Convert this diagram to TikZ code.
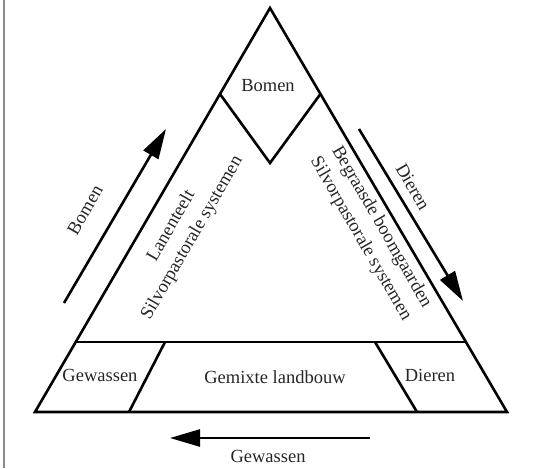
\documentclass[tikz,border=0pt]{standalone}
\usepackage{fontspec}
\setmainfont{Liberation Serif}
\usetikzlibrary{calc,arrows.meta}
\tikzset{
	edge line/.style={line width=2.6pt, line join=miter},
	flow arrow/.style={line width=2.6pt, -{Triangle[length=30pt,width=17pt]}},
	label text/.style={font=\fontsize{18.5}{24}\selectfont, text=black!85, align=center},
}

\begin{document}
\begin{tikzpicture}[x=1pt,y=-1pt]
		%%%%% START %%%%%
		\useasboundingbox (0,0) rectangle (537,468);
		\draw[line width=1.2pt, color=black!45] (4,0) -- (4,468);
		
		% triangle
		\coordinate (top) at (270,8);
		\coordinate (bl) at (35,412);
		\coordinate (br) at (507,412);
		\draw[edge line] (bl) -- (top) -- (br) -- cycle;
		
		% diamond at the top
		\coordinate (dl) at ($(top)!{86/404}!(bl)$);
		\coordinate (dr) at ($(top)!{86/404}!(br)$);
		\coordinate (db) at (270,163);
		\draw[edge line] (dl) -- (db) -- (dr);
		\node[label text] (bomentop) at (268,86) {Bomen};
		
		% bottom band
		\coordinate (ml) at ($(bl)!{70/404}!(top)$);
		\coordinate (mr) at ($(br)!{70/404}!(top)$);
		\draw[edge line] (ml) -- (mr);
		\draw[edge line] (165,342) -- (129,412);
		\draw[edge line] (375,342) -- (417,412);
		
		\node[label text] (gewassenbox) at (100,375) {Gewassen};
		\node[label text] (gemixt) at (275,377) {Gemixte landbouw};
		\node[label text] (dierenbox) at (430,375) {Dieren};
		
		% side texts
		\node[label text, rotate=60] (lanen) at (182,232) {Lanenteelt\\Silvorpastorale systemen};
		\node[label text, rotate=-60] (begraasd) at (371,233) {Begraasde boomgaarden\\Silvorpastorale systemen};
		
		% arrows
		\coordinate (la0) at (64,303);
		\coordinate (la1) at (166,129);
		\draw[flow arrow] (la0) -- (la1);
		\node[label text, rotate=60] (bomen) at (85,210) {Bomen};
		
		\coordinate (ra0) at (359,129);
		\coordinate (ra1) at (463,301);
		\draw[flow arrow] (ra0) -- (ra1);
		\node[label text, rotate=-60] (dieren) at (413,187) {Dieren};
		
		\coordinate (ba0) at (370,438);
		\coordinate (ba1) at (170,438);
		\draw[flow arrow] (ba0) -- (ba1);
		\node[label text] (gewassen) at (268,456) {Gewassen};
		%%%%% END %%%%%
	\end{tikzpicture}
\end{document}
